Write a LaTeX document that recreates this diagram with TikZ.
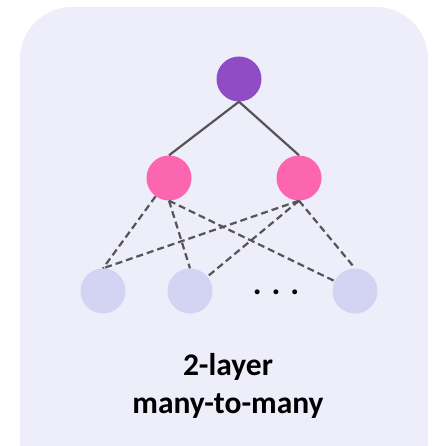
\documentclass[tikz,border=0pt]{standalone}
\usepackage{fontspec}
\setmainfont{Carlito}
\usetikzlibrary{positioning}

\definecolor{panelbg}{RGB}{238,237,250}
\definecolor{rootcol}{RGB}{143,76,196}
\definecolor{midcol}{RGB}{252,101,176}
\definecolor{leafcol}{RGB}{211,211,243}
\definecolor{linkcol}{RGB}{85,85,85}

\begin{document}
\begin{tikzpicture}[
		x=1pt, y=-1pt,
		ball/.style={circle, minimum size=45pt, inner sep=0pt, draw=none},
		link/.style={draw=linkcol, line width=2.2pt},
		weak/.style={link, dash pattern=on 7pt off 4pt}
		]
		
		\clip (0,0) rectangle (433,446);
		\fill[panelbg, rounded corners=52pt] (20,7) rectangle (428,500);
		
		% Nodes
		\node[ball, fill=rootcol] (root) at (239,79) {};
		\node[ball, fill=midcol] (mid1) [below of=root, node distance=99pt, xshift=-70pt] {};
		\node[ball, fill=midcol] (mid2) [below of=root, node distance=99pt, xshift=60pt] {};
		\node[ball, fill=leafcol] (leaf1) [below of=mid1, node distance=113pt, xshift=-66pt] {};
		\node[ball, fill=leafcol] (leaf2) [right of=leaf1, node distance=87pt] {};
		\node[ball, fill=leafcol] (leaf3) [right of=leaf2, node distance=165pt] {};
		\node (dots) at (276,294) [anchor=base, inner sep=0pt, font=\fontsize{33}{33}\selectfont\bfseries] {. . .};
		\node (caption) at (228,386) [align=center, font=\fontsize{31.5}{38}\selectfont\bfseries] {2-layer\\many-to-many};
		
		% Links
		\draw[link] (root.south) -- (mid1.north);
		\draw[link] (root.south) -- (mid2.north);
		\draw[weak] (mid1) -- (leaf1.north);
		\draw[weak] (mid1.south) -- (leaf2.north);
		\draw[weak] (mid1.south) -- (leaf3);
		\draw[weak] (mid2.south) -- (leaf1.north);
		\draw[weak] (mid2.south) -- (leaf2);
		\draw[weak] (mid2.south) -- (leaf3.north);
		
	\end{tikzpicture}
\end{document}
